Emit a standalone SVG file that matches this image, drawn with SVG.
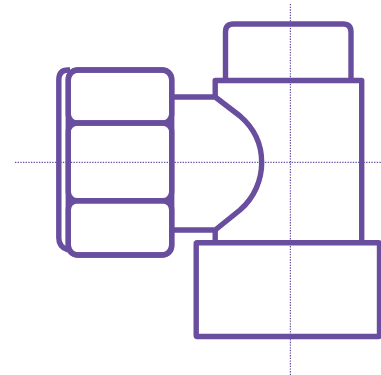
<svg xmlns="http://www.w3.org/2000/svg" width="381" height="375" viewBox="0 0 381 375">
<style>
.s{fill:none;stroke:#694e9f;stroke-width:5.400;stroke-linejoin:round;stroke-linecap:butt}
.c{fill:none;stroke:#694e9f;stroke-width:1.200;stroke-dasharray:1.33 1.33}
</style>
<rect width="381" height="375" fill="#fff"/>
<g id="centerlines">
<line class="c" x1="15" y1="162.300" x2="381" y2="162.300"/>
<line class="c" x1="290.400" y1="4" x2="290.400" y2="375"/>
</g>
<g id="cap">
<path class="s" d="M225.500 80.500V32Q225.500 24 233.500 24H343Q351 24 351 32V80.500"/>
</g>
<g id="body">
<path class="s" d="M215.200 97V80.500H361.700V243"/>
<path class="s" d="M171.700 97H215.200L240 116C255 129 261.700 146 261.700 162.500C261.700 179 255 197 240 210L215.200 230H171.700"/>
<path class="s" d="M215.200 230V243"/>
</g>
<g id="base">
<rect class="s" x="196.200" y="242.800" width="183.300" height="93.700" rx="1"/>
</g>
<g id="nut">
<path class="s" d="M70 70H68Q58.800 70 58.800 80V238Q58.800 247 68 250"/>
<rect class="s" x="68.300" y="70" width="103.400" height="185" rx="10"/>
<rect class="s" x="68.300" y="70" width="103.400" height="53" rx="9"/>
<rect class="s" x="68.300" y="123" width="103.400" height="77.800" rx="9"/>
<rect class="s" x="68.300" y="200.800" width="103.400" height="54.200" rx="9"/>
</g>
</svg>
